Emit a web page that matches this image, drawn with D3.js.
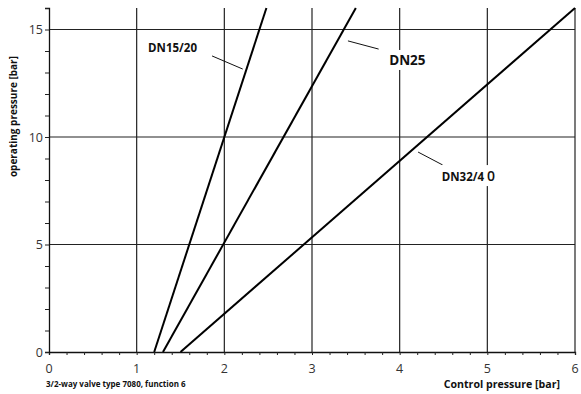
<!DOCTYPE html>
<html>
<head>
<meta charset="utf-8">
<script src="https://cdn.jsdelivr.net/npm/d3@7"></script>
<style>
  body { margin: 0; background: #fff; }
  svg { font-family: "Open Sans", sans-serif; }
</style>
</head>
<body>
<script>
// chart values
const series = ["DN15/20", "DN25", "DN32/40"];
// each series is a straight line: [control pressure, operating pressure]
const seriesPoints = [
  [[1.2, 0], [2.48, 16]],
  [[1.3, 0], [3.5, 16]],
  [[1.5, 0], [6.0, 16]]
];
const xTicks = [0, 1, 2, 3, 4, 5, 6];
const yTicks = [0, 5, 10, 15];
// label anchor and leader line (data units)
const labelPos = [[1.13, 13.95], [3.88, 13.35], [4.48, 7.95]];
const leaders = [
  [[1.86, 13.77], [2.21, 13.16]],
  [[3.41, 14.47], [3.76, 14.09]],
  [[4.21, 9.30], [4.49, 8.70]]
];

const width = 581, height = 394;
const margin = {top: 8, right: 6, bottom: 42, left: 49};

const svg = d3.select("body")
    .append("svg")
    .attr("width", width)
    .attr("height", height);

const x = d3.scaleLinear().domain([0, 6]).range([margin.left, width - margin.right]);
const y = d3.scaleLinear().domain([0, 16]).range([height - margin.bottom, margin.top]);

// grid
svg.append("g")
    .selectAll("line")
    .data(xTicks.slice(1))
    .join("line")
    .attr("x1", d => x(d)).attr("x2", d => x(d))
    .attr("y1", y(0)).attr("y2", y(16))
    .attr("stroke", "#222").attr("stroke-width", 1.2);

svg.append("g")
    .selectAll("line")
    .data(yTicks.slice(1))
    .join("line")
    .attr("x1", x(0)).attr("x2", x(6))
    .attr("y1", d => y(d)).attr("y2", d => y(d))
    .attr("stroke", "#222").attr("stroke-width", 1.2);

// axes
const xAxis = svg.append("g")
    .attr("transform", `translate(0,${y(0)})`)
    .call(d3.axisBottom(x).tickValues(d3.range(0, 6.01, 0.2)).tickSize(3).tickFormat(""));
const yAxis = svg.append("g")
    .attr("transform", `translate(${x(0)},0)`)
    .call(d3.axisLeft(y).tickValues(d3.range(0, 16.01, 1)).tickSize(4).tickFormat(""));
[xAxis, yAxis].forEach(a => {
  a.select(".domain").attr("stroke", "#111").attr("stroke-width", 1.3);
  a.selectAll(".tick line").attr("stroke", "#222");
});

svg.append("g")
    .selectAll("text")
    .data(xTicks)
    .join("text")
    .attr("x", d => x(d))
    .attr("y", y(0) + 21)
    .attr("text-anchor", "middle")
    .attr("font-size", 12.5)
    .attr("fill", "#333")
    .text(d => d);

svg.append("g")
    .selectAll("text")
    .data(yTicks)
    .join("text")
    .attr("x", x(0) - 6)
    .attr("y", d => y(d) + 4.5)
    .attr("text-anchor", "end")
    .attr("font-size", 12.5)
    .attr("fill", "#333")
    .text(d => d);

// series lines
const line = d3.line().x(d => x(d[0])).y(d => y(d[1]));
svg.append("g")
    .selectAll("path")
    .data(seriesPoints)
    .join("path")
    .attr("d", line)
    .attr("fill", "none")
    .attr("stroke", "#000")
    .attr("stroke-width", 2);

// leader lines
svg.append("g")
    .selectAll("line")
    .data(leaders)
    .join("line")
    .attr("x1", d => x(d[0][0])).attr("y1", d => y(d[0][1]))
    .attr("x2", d => x(d[1][0])).attr("y2", d => y(d[1][1]))
    .attr("stroke", "#111").attr("stroke-width", 1);

// labels with white background
const fontSizes = [11.5, 13.5, 11.5];
const labels = svg.append("g");
series.forEach((name, i) => {
  const g = labels.append("g");
  const bg = g.append("rect").attr("fill", "#fff");
  const t = g.append("text")
      .attr("x", x(labelPos[i][0]))
      .attr("y", y(labelPos[i][1]))
      .attr("font-size", fontSizes[i])
      .attr("font-weight", "bold")
      .attr("fill", "#111");
  if (name === "DN32/40") {
    t.append("tspan").text("DN32/4");
    t.append("tspan").attr("dx", 3).attr("font-weight", 600).attr("font-size", 14).text("0");
  } else {
    t.text(name);
  }
  const b = t.node().getBBox();
  bg.attr("x", b.x - 2).attr("y", b.y - 1).attr("width", b.width + 4).attr("height", b.height + 2);
});

// axis titles
svg.append("text")
    .attr("transform", `translate(17,${y(10.95)}) rotate(-90)`)
    .attr("text-anchor", "middle")
    .attr("font-size", 10)
    .attr("font-weight", "bold")
    .attr("fill", "#111")
    .text("operating pressure [bar]");

svg.append("text")
    .attr("x", x(6) - 15)
    .attr("y", 388)
    .attr("text-anchor", "end")
    .attr("font-size", 10.6)
    .attr("font-weight", "bold")
    .attr("fill", "#111")
    .text("Control pressure [bar]");

svg.append("text")
    .attr("x", 46)
    .attr("y", 387)
    .attr("font-size", 8)
    .attr("font-weight", "bold")
    .attr("fill", "#111")
    .text("3/2-way valve type 7080, function 6");
</script>
</body>
</html>
